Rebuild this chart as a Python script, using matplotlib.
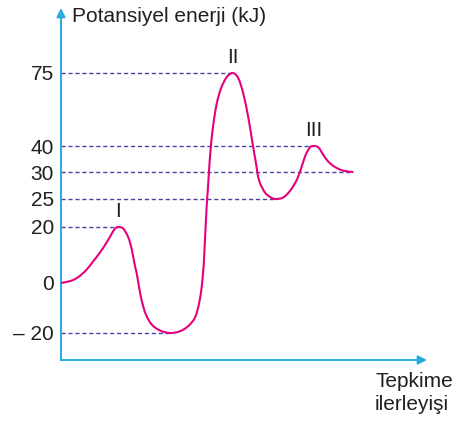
import numpy as np
import matplotlib
matplotlib.use("Agg")
import matplotlib.pyplot as plt
from matplotlib.path import Path
from matplotlib.patches import PathPatch

plt.rcParams['font.family'] = ['Liberation Sans', 'DejaVu Sans']

# reaction progress (arbitrary units) and potential energy (kJ) along the path
progress = [0, 5.7, 12.3, 19, 25.7, 32.3, 39, 45.7, 50.7, 54,
            57.3, 62.3, 67.3, 70.7, 74, 75.7, 78, 80.7, 84.7, 90.7,
            99, 109, 119, 127.3, 134, 138, 140.7, 142.3, 143, 145.7,
            146.7, 148, 149.7, 152.3, 155.7, 160, 165.7, 171.7, 177.3, 182.3,
            187.3, 191.3, 194.7, 198, 204, 210.7, 215.7, 222.3, 229, 235.7,
            240.7, 244.7, 249, 252.3, 257.3, 262.3, 267.3, 274, 282.3, 292.3]
energy = [0, 0.4, 1.1, 2.6, 4.8, 7.8, 10.9, 14.5, 17.6, 19.4,
          20, 19.4, 16.3, 12.1, 6.0, 3.5, -1.5, -7.0, -12.4, -16.6,
          -19.0, -20, -19.3, -17.2, -13.8, -8.3, -1.5, 4.8, 8.4, 23.8,
          26.3, 30.2, 39.1, 50.3, 60.2, 67.6, 73.0, 75, 72.5, 65.1,
          53.7, 42.1, 34.0, 28.5, 26.2, 25.2, 25, 25.3, 26.5, 28.5,
          32.1, 36.6, 39.5, 40, 39.5, 36.6, 34.0, 31.9, 30.5, 30]

tick_values = [-20, 0, 20, 25, 30, 40, 75]
tick_labels = ['\u2013 20', '0', '20', '25', '30', '40', '75']
peak_names = ['I', 'II', 'III']

# the energy axis is schematic: levels are spaced by hand, not linearly
AXIS_LEVELS = [-40, -20, 0, 20, 25, 30, 40, 75, 120]
AXIS_POS = [-23, 27, 77, 133, 161, 188, 214, 287, 381]


def fwd(v):
    return np.interp(v, AXIS_LEVELS, AXIS_POS)


def inv(p):
    return np.interp(p, AXIS_POS, AXIS_LEVELS)


def local_extrema(y):
    idx = []
    for i in range(1, len(y) - 1):
        if (y[i] >= y[i-1] and y[i] >= y[i+1]) or (y[i] <= y[i-1] and y[i] <= y[i+1]):
            idx.append(i)
    idx.append(len(y) - 1)
    return idx


def smooth_path(pts):
    # Catmull-Rom through the points, written as cubic Bezier segments
    p = np.vstack([pts[0], pts, pts[-1]])
    verts = [p[1]]
    codes = [Path.MOVETO]
    for i in range(1, len(p) - 2):
        c1 = p[i] + (p[i+1] - p[i-1]) / 6
        c2 = p[i+1] - (p[i+2] - p[i]) / 6
        verts += [c1, c2, p[i+1]]
        codes += [Path.CURVE4] * 3
    return Path(verts, codes)


W, H = 467, 425
fig = plt.figure(figsize=(W / 100, H / 100), dpi=100)
ax = fig.add_axes([61 / W, 65 / H, 366 / W, 352 / H])

ax.set_yscale('function', functions=(fwd, inv))
ax.set_xlim(0, 366)
ax.set_ylim(inv(0), inv(352))

blue = '#29aae1'
dash = '#4646a2'
ink = '#231f20'

# dashed guides from the axis to every turning point (and the end)
ext = local_extrema(energy)
for i in ext:
    ax.plot([0, progress[i]], [energy[i], energy[i]], color=dash, lw=1.0,
            dashes=(3, 2), zorder=1)

# energy profile, smoothed in display space so the odd axis spacing is kept
disp = ax.transData.transform(np.column_stack([progress, energy]))
curve = PathPatch(smooth_path(disp), transform=None, facecolor='none',
                  edgecolor='#e6007e', lw=1.5, zorder=3)
fig.add_artist(curve)

# roman numerals over the three maxima
maxima = [i for i in ext[:-1] if energy[i] > energy[i-1]]
for name, i in zip(peak_names, maxima):
    ax.annotate(name, (progress[i], energy[i]), xytext=(0, 4),
                textcoords='offset points', ha='center', va='bottom',
                fontsize=15, color=ink)

ax.set_yticks(tick_values, labels=tick_labels)
ax.set_xticks([])
ax.tick_params(axis='y', length=0, pad=5, labelsize=15, labelcolor=ink)
for s in ax.spines.values():
    s.set_visible(False)

arrow = dict(arrowstyle='-|>', color=blue, lw=1.4, mutation_scale=13,
             shrinkA=0, shrinkB=0)
ax.annotate('', xy=(1, 0), xytext=(0, 0), xycoords='axes fraction', arrowprops=arrow)
ax.annotate('', xy=(0, 1), xytext=(0, 0), xycoords='axes fraction', arrowprops=arrow)

fig.text(72 / W, 1 - 17 / H, 'Potansiyel enerji (kJ)', fontsize=15, color=ink,
         ha='left', va='center')
fig.text(375 / W, 1 - 372 / H, 'Tepkime\nilerleyişi', fontsize=15, color=ink,
         ha='left', va='top', linespacing=1.25)

fig.savefig('out.png', dpi=100)
